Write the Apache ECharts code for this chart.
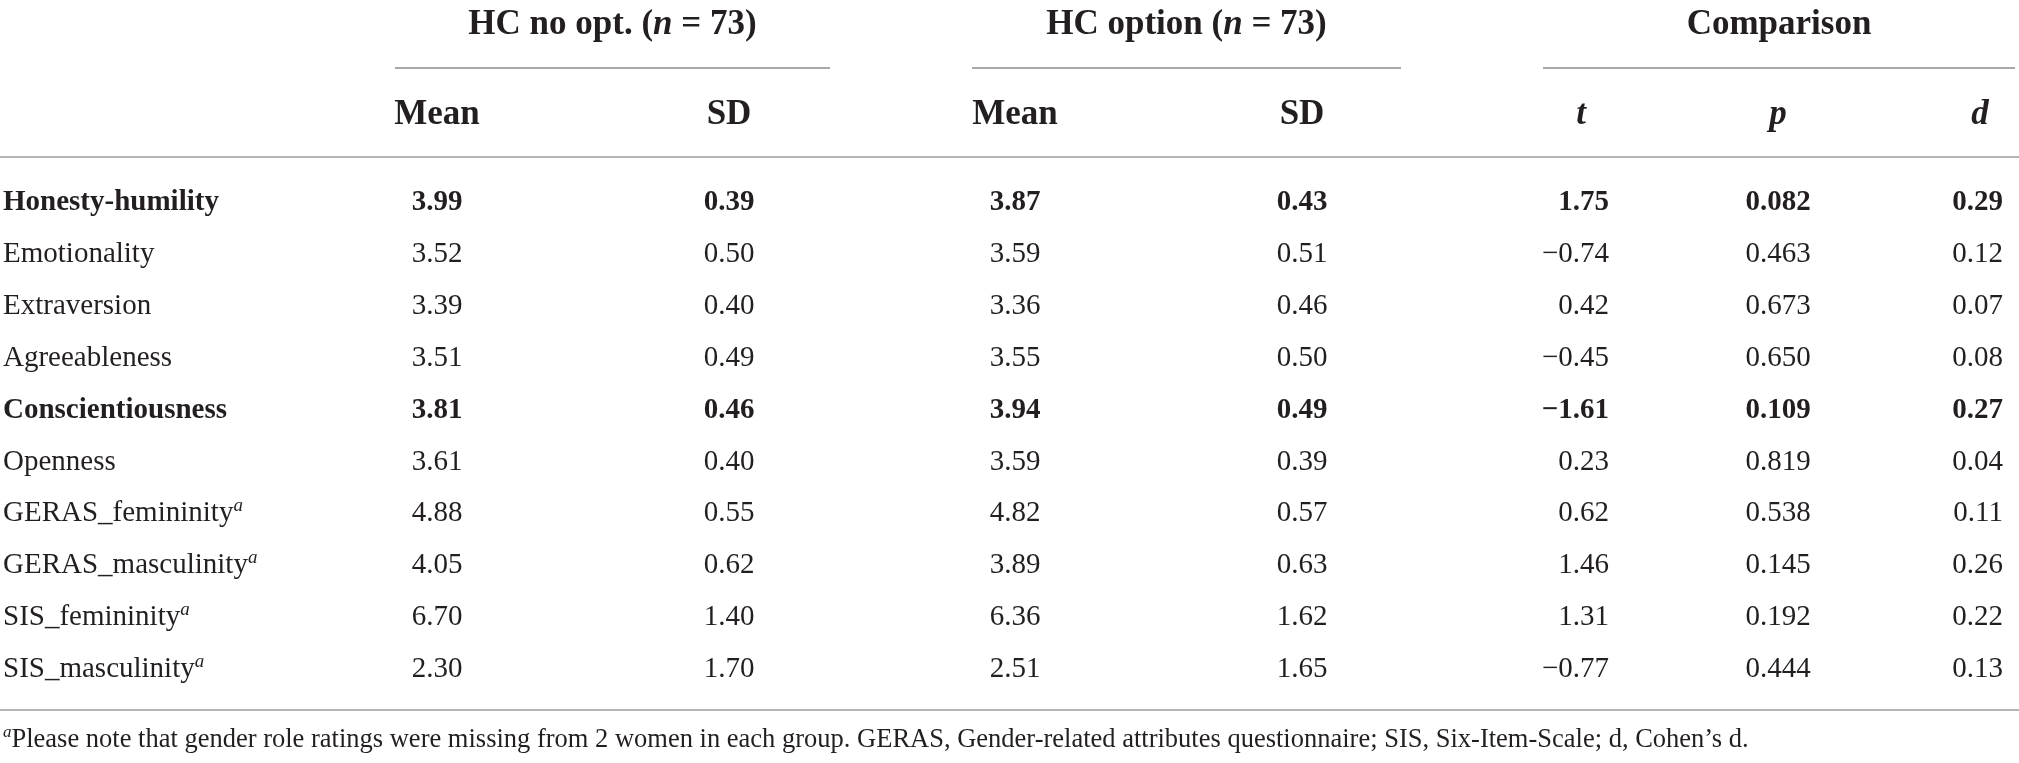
<!DOCTYPE html>
<html>
<head>
<meta charset="utf-8">
<script src="https://cdn.jsdelivr.net/npm/echarts@6/dist/echarts.min.js"></script>
<style>
  html, body, #main { width: 100%; height: 100%; margin: 0; background: #fff; }
</style>
</head>
<body>
<div id="main"></div>
<script>
// table data
var traits = ['Honesty-humility', 'Emotionality', 'Extraversion', 'Agreeableness', 'Conscientiousness',
              'Openness', 'GERAS_femininity', 'GERAS_masculinity', 'SIS_femininity', 'SIS_masculinity'];
var boldRows = ['Honesty-humility', 'Conscientiousness'];
var footnoteRows = ['GERAS_femininity', 'GERAS_masculinity', 'SIS_femininity', 'SIS_masculinity'];

var noOptMean = [3.99, 3.52, 3.39, 3.51, 3.81, 3.61, 4.88, 4.05, 6.70, 2.30];
var noOptSD   = [0.39, 0.50, 0.40, 0.49, 0.46, 0.40, 0.55, 0.62, 1.40, 1.70];
var optMean   = [3.87, 3.59, 3.36, 3.55, 3.94, 3.59, 4.82, 3.89, 6.36, 2.51];
var optSD     = [0.43, 0.51, 0.46, 0.50, 0.49, 0.39, 0.57, 0.63, 1.62, 1.65];
var tValues   = [1.75, -0.74, 0.42, -0.45, -1.61, 0.23, 0.62, 1.46, 1.31, -0.77];
var pValues   = [0.082, 0.463, 0.673, 0.650, 0.109, 0.819, 0.538, 0.145, 0.192, 0.444];
var dValues   = [0.29, 0.12, 0.07, 0.08, 0.27, 0.04, 0.11, 0.26, 0.22, 0.13];

var groupHeaders = [['HC no opt. (', 'n', ' = 73)'], ['HC option (', 'n', ' = 73)'], ['Comparison', '', '']];
var colHeaders = ['Mean', 'SD', 'Mean', 'SD', 't', 'p', 'd'];
var footnote = 'Please note that gender role ratings were missing from 2 women in each group. ' +
               'GERAS, Gender-related attributes questionnaire; SIS, Six-Item-Scale; d, Cohen\u2019s d.';

// layout (x in px along the value axis)
var FONT = 'Liberation Serif';
var INK = '#231f20';
var BODY = 29;
var HEAD = 35;
var colX = [437, 729, 1015, 1302, 1609, 1778, 2003];
var colAlign = ['center', 'center', 'center', 'center', 'right', 'center', 'right'];
var headX = [437, 729, 1015, 1302, 1581, 1778, 1980];
var groupSpan = [[395, 830], [972, 1401], [1543, 2015]];

function fmt(v, dp) {
  var s = Math.abs(v).toFixed(dp);
  return v < 0 ? '\u2212' + s : s;
}

var chart = echarts.init(document.getElementById('main'));

function column(x, vals, dp, align) {
  return {
    type: 'scatter',
    symbolSize: 0,
    silent: true,
    itemStyle: { opacity: 1 },
    data: vals.map(function (v, i) {
      return {
        value: [x, traits[i]],
        label: { fontWeight: boldRows.indexOf(traits[i]) >= 0 ? 'bold' : 'normal' }
      };
    }),
    label: {
      show: true,
      position: 'inside',
      align: align,
      verticalAlign: 'middle',
      fontFamily: FONT,
      fontSize: BODY,
      color: INK,
      formatter: function (p) { return fmt(vals[p.dataIndex], dp); }
    }
  };
}

var series = [
  {
    type: 'scatter',
    symbolSize: 0,
    silent: true,
    itemStyle: { opacity: 1 },
    data: traits.map(function (t) { return [3, t]; }),
    label: {
      show: true,
      position: 'inside',
      align: 'left',
      verticalAlign: 'middle',
      color: INK,
      formatter: function (p) {
        var t = traits[p.dataIndex];
        if (boldRows.indexOf(t) >= 0) return '{b|' + t + '}';
        if (footnoteRows.indexOf(t) >= 0) return '{n|' + t + '}{s|a}';
        return '{n|' + t + '}';
      },
      rich: {
        n: { fontFamily: FONT, fontSize: BODY, color: INK, lineHeight: 34 },
        b: { fontFamily: FONT, fontSize: BODY, fontWeight: 'bold', color: INK, lineHeight: 34 },
        s: { fontFamily: FONT, fontSize: 19, fontStyle: 'italic', color: INK, lineHeight: 18, verticalAlign: 'top' }
      }
    }
  },
  column(colX[0], noOptMean, 2, colAlign[0]),
  column(colX[1], noOptSD, 2, colAlign[1]),
  column(colX[2], optMean, 2, colAlign[2]),
  column(colX[3], optSD, 2, colAlign[3]),
  column(colX[4], tValues, 2, colAlign[4]),
  column(colX[5], pValues, 3, colAlign[5]),
  column(colX[6], dValues, 2, colAlign[6])
];

var headRich = {
  b: { fontFamily: FONT, fontSize: HEAD, fontWeight: 'bold', fill: INK },
  i: { fontFamily: FONT, fontSize: HEAD, fontWeight: 'bold', fontStyle: 'italic', fill: INK }
};

var graphic = [];
groupHeaders.forEach(function (g, k) {
  var span = groupSpan[k];
  var txt = '{b|' + g[0] + '}' + (g[1] ? '{i|' + g[1] + '}' : '') + (g[2] ? '{b|' + g[2] + '}' : '');
  graphic.push({
    type: 'text', silent: true,
    style: { text: txt, x: (span[0] + span[1]) / 2, y: 25, align: 'center', verticalAlign: 'middle', rich: headRich }
  });
  graphic.push({
    type: 'line', silent: true,
    shape: { x1: span[0], y1: 68, x2: span[1], y2: 68 },
    style: { stroke: '#8c8c8c', lineWidth: 1.5 }
  });
});
colHeaders.forEach(function (h, k) {
  var italic = k >= 4;
  graphic.push({
    type: 'text', silent: true,
    style: {
      text: (italic ? '{i|' : '{b|') + h + '}', x: headX[k], y: 115,
      align: 'center', verticalAlign: 'middle', rich: headRich
    }
  });
});
[157, 710].forEach(function (y) {
  graphic.push({
    type: 'line', silent: true,
    shape: { x1: 0, y1: y, x2: 2019, y2: y },
    style: { stroke: '#b4b4b4', lineWidth: 2 }
  });
});
graphic.push({
  type: 'text', silent: true,
  style: {
    text: '{s|a}{n|' + footnote + '}', x: 3, y: 740, align: 'left', verticalAlign: 'middle',
    rich: {
      n: { fontFamily: FONT, fontSize: 26.5, fill: INK, lineHeight: 32 },
      s: { fontFamily: FONT, fontSize: 17, fontStyle: 'italic', fill: INK, lineHeight: 16, verticalAlign: 'top' }
    }
  }
});

chart.setOption({
  animation: false,
  backgroundColor: '#fff',
  grid: { left: 0, right: 0, top: 177, bottom: 68 },
  xAxis: { type: 'value', min: 0, max: 2019, show: false },
  yAxis: { type: 'category', data: traits, inverse: true, show: false },
  graphic: graphic,
  series: series
});
</script>
</body>
</html>
